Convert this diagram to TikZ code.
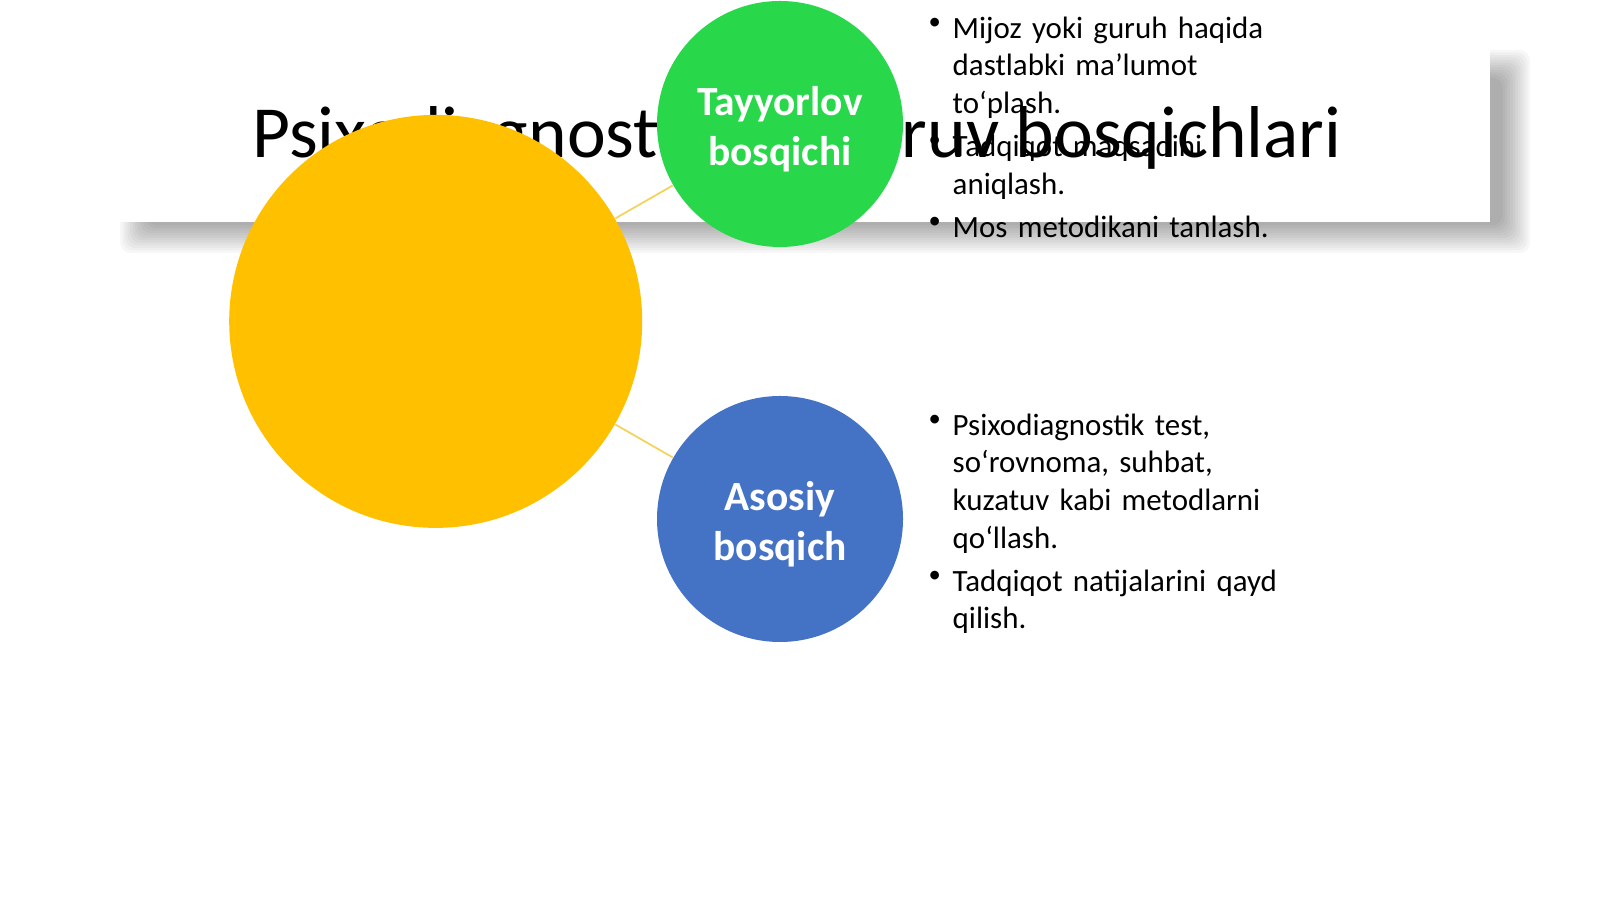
\documentclass[tikz,border=0pt]{standalone}
\usepackage{fontspec}
\setmainfont{Carlito}
\usetikzlibrary{backgrounds,calc}
\newcommand\bitem[1]{\par\hangindent=0.18cm\hangafter=1\noindent
  \makebox[0.18cm][l]{\kern-.06cm\raisebox{.6ex}{\scriptsize\textbullet}}#1\par\vskip1.6pt}

\begin{document}
\begin{tikzpicture}
\tikzset{stage/.style={circle,minimum size=2.46cm,inner sep=0pt}}
\tikzset{stage text/.style={text=white,align=center,font=\bfseries\fontsize{11.8}{14.3}\selectfont}}
\tikzset{bullets/.style={anchor=north west,inner sep=0pt,text width=3.75cm,align=left,
    font=\fontsize{8.8}{10.7}\selectfont}}
\tikzset{link/.style={draw=link,line width=.5pt}}
\definecolor{core}{HTML}{FFC000} \definecolor{prep}{HTML}{29D74B}
\definecolor{main}{HTML}{4472C4} \definecolor{link}{HTML}{F2D35C}

\useasboundingbox (0,0) rectangle (16,-8.99);

% title bar with soft shadow
\begin{pgfonlayer}{background}
\foreach \i in {0,...,11}
  \fill[black,opacity=.032,rounded corners=3pt]
    ($(1.2,-0.5)+(\i*.025,-\i*.025)$) rectangle ($(15.3,-2.53)+(-\i*.025,\i*.025)$);
\fill[white] (1.1,-0.45) rectangle (14.9,-2.22);
\end{pgfonlayer}
\node[anchor=base,font=\fontsize{20.9}{25}\selectfont](title)at(7.97,-1.58){Psixodiagnostik tekshiruv bosqichlari};

\node[stage,fill=core,minimum size=4.13cm](core)at(4.357,-3.214){};
\node[stage,fill=prep](prep)at(7.8,-1.24){};
\node[stage,fill=main](main)at(7.8,-5.19){};
\node[stage text](prep text)at([yshift=-.05cm]prep){Tayyorlov\\bosqichi};
\node[stage text](main text)at([yshift=-.05cm]main){Asosiy\\bosqich};

\begin{pgfonlayer}{background}
\foreach \stage in {prep,main}\draw[link](core)--(\stage);
\end{pgfonlayer}

\node[bullets](prep list)at(9.34,0.0){
\bitem{Mijoz yoki guruh haqida dastlabki ma’lumot to‘plash.}
\bitem{Tadqiqot maqsadini aniqlash.}
\bitem{Mos metodikani tanlash.}};
\node[bullets](main list)at(9.34,-3.97){
\bitem{Psixodiagnostik test, so‘rovnoma, suhbat, kuzatuv kabi metodlarni qo‘llash.}
\bitem{Tadqiqot natijalarini qayd qilish.}};
\end{tikzpicture}
\end{document}
